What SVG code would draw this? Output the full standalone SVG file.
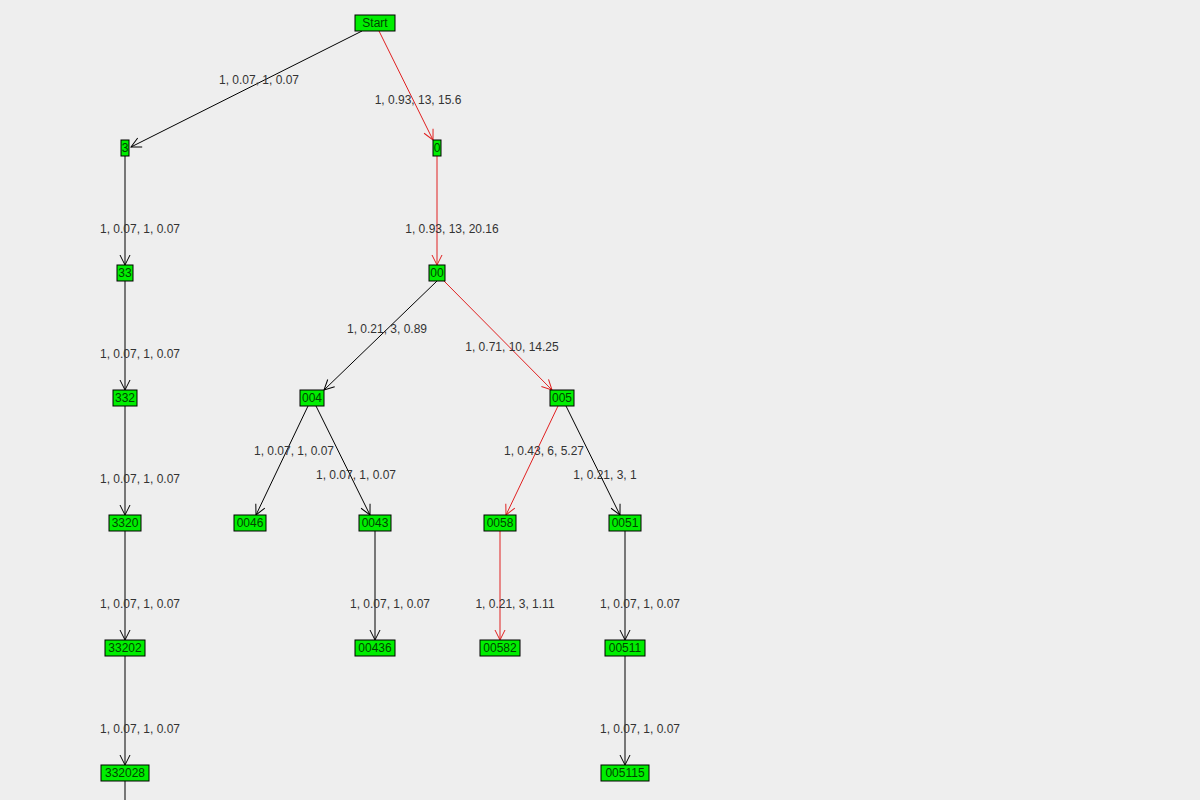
<svg xmlns="http://www.w3.org/2000/svg" width="1200" height="800" viewBox="0 0 1200 800">
<defs>
<marker id="ab" viewBox="0 0 12 12" refX="11" refY="6" markerWidth="12" markerHeight="12" markerUnits="userSpaceOnUse" orient="auto"><path d="M1,1 L11,6 L1,11" fill="none" stroke="#000" stroke-width="1"/></marker>
<marker id="ar" viewBox="0 0 12 12" refX="11" refY="6" markerWidth="12" markerHeight="12" markerUnits="userSpaceOnUse" orient="auto"><path d="M1,1 L11,6 L1,11" fill="none" stroke="#e02020" stroke-width="1"/></marker>
</defs>
<style>
.n rect{fill:#00ee00;stroke:#000;stroke-width:1}
.n text{font-family:"Liberation Sans",Arial,sans-serif;font-size:12px;fill:#004400;text-anchor:middle}
.e line{stroke:#000;stroke-width:1;marker-end:url(#ab)}
.e line.r{stroke:#e02020;marker-end:url(#ar)}
.l{font-family:"Liberation Sans",Arial,sans-serif;font-size:12px;fill:#333;text-anchor:middle}
</style>
<rect width="1200" height="800" fill="#eeeeee"/>
<g id="connectors" class="e">
<line x1="362" y1="31" x2="131" y2="147"/>
<line class="r" x1="379" y1="31" x2="433" y2="140"/>
<line x1="125" y1="156" x2="125" y2="265"/>
<line class="r" x1="437" y1="156" x2="437" y2="265"/>
<line x1="125" y1="281" x2="125" y2="390"/>
<line x1="437" y1="281" x2="324" y2="390"/>
<line class="r" x1="444" y1="281" x2="552" y2="390"/>
<line x1="125" y1="406" x2="125" y2="515"/>
<line x1="308" y1="406" x2="256" y2="515"/>
<line x1="316" y1="406" x2="370" y2="515"/>
<line class="r" x1="558" y1="406" x2="506" y2="515"/>
<line x1="566" y1="406" x2="620" y2="515"/>
<line x1="125" y1="531" x2="125" y2="640"/>
<line x1="375" y1="531" x2="375" y2="640"/>
<line class="r" x1="500" y1="531" x2="500" y2="640"/>
<line x1="625" y1="531" x2="625" y2="640"/>
<line x1="125" y1="656" x2="125" y2="765"/>
<line x1="625" y1="656" x2="625" y2="765"/>
<line x1="125" y1="781" x2="125" y2="890"/>
</g>
<g id="labels">
<text class="l" x="259" y="84">1, 0.07, 1, 0.07</text>
<text class="l" x="418" y="104">1, 0.93, 13, 15.6</text>
<text class="l" x="140" y="233">1, 0.07, 1, 0.07</text>
<text class="l" x="452" y="233">1, 0.93, 13, 20.16</text>
<text class="l" x="140" y="358">1, 0.07, 1, 0.07</text>
<text class="l" x="387" y="333">1, 0.21, 3, 0.89</text>
<text class="l" x="512" y="351">1, 0.71, 10, 14.25</text>
<text class="l" x="140" y="483">1, 0.07, 1, 0.07</text>
<text class="l" x="294" y="455">1, 0.07, 1, 0.07</text>
<text class="l" x="356" y="479">1, 0.07, 1, 0.07</text>
<text class="l" x="544" y="455">1, 0.43, 6, 5.27</text>
<text class="l" x="605" y="479">1, 0.21, 3, 1</text>
<text class="l" x="140" y="608">1, 0.07, 1, 0.07</text>
<text class="l" x="390" y="608">1, 0.07, 1, 0.07</text>
<text class="l" x="515" y="608">1, 0.21, 3, 1.11</text>
<text class="l" x="640" y="608">1, 0.07, 1, 0.07</text>
<text class="l" x="140" y="733">1, 0.07, 1, 0.07</text>
<text class="l" x="640" y="733">1, 0.07, 1, 0.07</text>
</g>
<g id="Start" class="n"><rect x="355" y="15" width="40" height="16"/><text x="375" y="27">Start</text></g>
<g id="n3" class="n"><rect x="121" y="140" width="8" height="16"/><text x="125" y="152">3</text></g>
<g id="n0" class="n"><rect x="433" y="140" width="8" height="16"/><text x="437" y="152">0</text></g>
<g id="n33" class="n"><rect x="117" y="265" width="16" height="16"/><text x="125" y="277">33</text></g>
<g id="n00" class="n"><rect x="429" y="265" width="16" height="16"/><text x="437" y="277">00</text></g>
<g id="n332" class="n"><rect x="113" y="390" width="24" height="16"/><text x="125" y="402">332</text></g>
<g id="n004" class="n"><rect x="300" y="390" width="24" height="16"/><text x="312" y="402">004</text></g>
<g id="n005" class="n"><rect x="550" y="390" width="24" height="16"/><text x="562" y="402">005</text></g>
<g id="n3320" class="n"><rect x="109" y="515" width="32" height="16"/><text x="125" y="527">3320</text></g>
<g id="n0046" class="n"><rect x="234" y="515" width="32" height="16"/><text x="250" y="527">0046</text></g>
<g id="n0043" class="n"><rect x="359" y="515" width="32" height="16"/><text x="375" y="527">0043</text></g>
<g id="n0058" class="n"><rect x="484" y="515" width="32" height="16"/><text x="500" y="527">0058</text></g>
<g id="n0051" class="n"><rect x="609" y="515" width="32" height="16"/><text x="625" y="527">0051</text></g>
<g id="n33202" class="n"><rect x="105" y="640" width="40" height="16"/><text x="125" y="652">33202</text></g>
<g id="n00436" class="n"><rect x="355" y="640" width="40" height="16"/><text x="375" y="652">00436</text></g>
<g id="n00582" class="n"><rect x="480" y="640" width="40" height="16"/><text x="500" y="652">00582</text></g>
<g id="n00511" class="n"><rect x="605" y="640" width="40" height="16"/><text x="625" y="652">00511</text></g>
<g id="n332028" class="n"><rect x="101" y="765" width="48" height="16"/><text x="125" y="777">332028</text></g>
<g id="n005115" class="n"><rect x="601" y="765" width="48" height="16"/><text x="625" y="777">005115</text></g>
</svg>
